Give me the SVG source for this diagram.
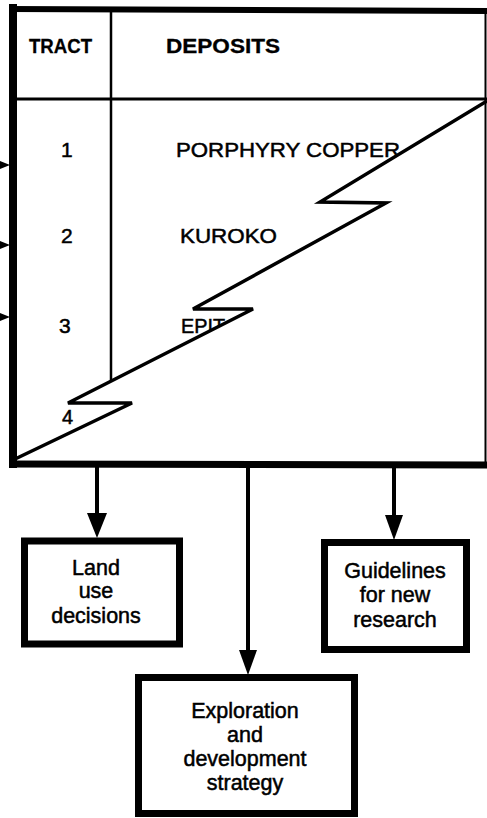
<svg xmlns="http://www.w3.org/2000/svg" width="487" height="818" viewBox="0 0 487 818">
<style>
.t{font-family:"Liberation Sans",Arial,sans-serif;fill:#000;stroke:#000;stroke-width:0.5}
.b{font-weight:bold;stroke-width:0.3}
.box{fill:#fff;stroke:#000;stroke-width:7}
.ln{stroke:#000;fill:none}
.ah{fill:#000}
</style>
<rect width="487" height="818" fill="#fff"/>
<g id="table">
<line class="ln" x1="111" y1="9" x2="111" y2="385" stroke-width="2.5"/>
<line class="ln" x1="13" y1="99" x2="487" y2="99" stroke-width="3"/>
<text class="t b" x="29" y="53" font-size="21" textLength="63" lengthAdjust="spacingAndGlyphs">TRACT</text>
<text class="t b" x="166" y="53" font-size="21" textLength="114" lengthAdjust="spacingAndGlyphs">DEPOSITS</text>
<text class="t" x="61" y="157" font-size="21">1</text>
<text class="t" x="176" y="157" font-size="21" textLength="224" lengthAdjust="spacingAndGlyphs">PORPHYRY COPPER</text>
<text class="t" x="61" y="243" font-size="21">2</text>
<text class="t" x="180" y="243" font-size="21" textLength="97" lengthAdjust="spacingAndGlyphs">KUROKO</text>
<text class="t" x="59" y="333" font-size="21">3</text>
<text class="t" x="181" y="333" font-size="21" textLength="44" lengthAdjust="spacingAndGlyphs">EPIT</text>
<text class="t" x="62" y="424" font-size="20">4</text>
<polygon points="485,102 320,202 386,203 193,309 253,309 68,403 132,403 13,460 485,460" fill="#fff"/>
<polyline class="ln" points="487,101 320,202 386,203 193,309 253,309 68,403 132,403 13,460" stroke-width="3.5" stroke-linejoin="miter"/>
<line class="ln" x1="13" y1="4" x2="13" y2="468" stroke-width="8"/>
<line class="ln" x1="9" y1="9" x2="487" y2="11" stroke-width="6"/>
<line class="ln" x1="9" y1="464" x2="487" y2="465" stroke-width="7"/>
<line class="ln" x1="485.5" y1="9" x2="485.5" y2="465" stroke-width="2"/>
</g>
<g id="inputs">
<polygon class="ah" points="0,161 10,165 0,169"/>
<polygon class="ah" points="0,241 10,245 0,249"/>
<polygon class="ah" points="0,313 10,317 0,321"/>
</g>
<g id="connectors">
<line class="ln" x1="97" y1="467" x2="97" y2="515" stroke-width="4"/>
<polygon class="ah" points="87,513 107,513 97,538"/>
<line class="ln" x1="248" y1="467" x2="248" y2="652" stroke-width="4"/>
<polygon class="ah" points="239,650 257,650 248,675"/>
<line class="ln" x1="394" y1="467" x2="394" y2="517" stroke-width="4"/>
<polygon class="ah" points="385,515 403,515 394,540"/>
</g>
<g id="land-use">
<rect class="box" x="24.5" y="541" width="155" height="103"/>
<text class="t" font-size="21.5" text-anchor="middle"><tspan x="96" y="575">Land</tspan><tspan x="96" y="598">use</tspan><tspan x="96" y="623">decisions</tspan></text>
</g>
<g id="guidelines">
<rect class="box" x="324.5" y="542.5" width="142" height="107"/>
<text class="t" font-size="21.5" text-anchor="middle"><tspan x="395" y="578">Guidelines</tspan><tspan x="395" y="602">for new</tspan><tspan x="395" y="627">research</tspan></text>
</g>
<g id="exploration">
<rect class="box" x="138.5" y="677.5" width="216" height="136"/>
<text class="t" font-size="21.5" text-anchor="middle"><tspan x="245" y="718">Exploration</tspan><tspan x="245" y="742">and</tspan><tspan x="245" y="766">development</tspan><tspan x="245" y="790">strategy</tspan></text>
</g>
</svg>
